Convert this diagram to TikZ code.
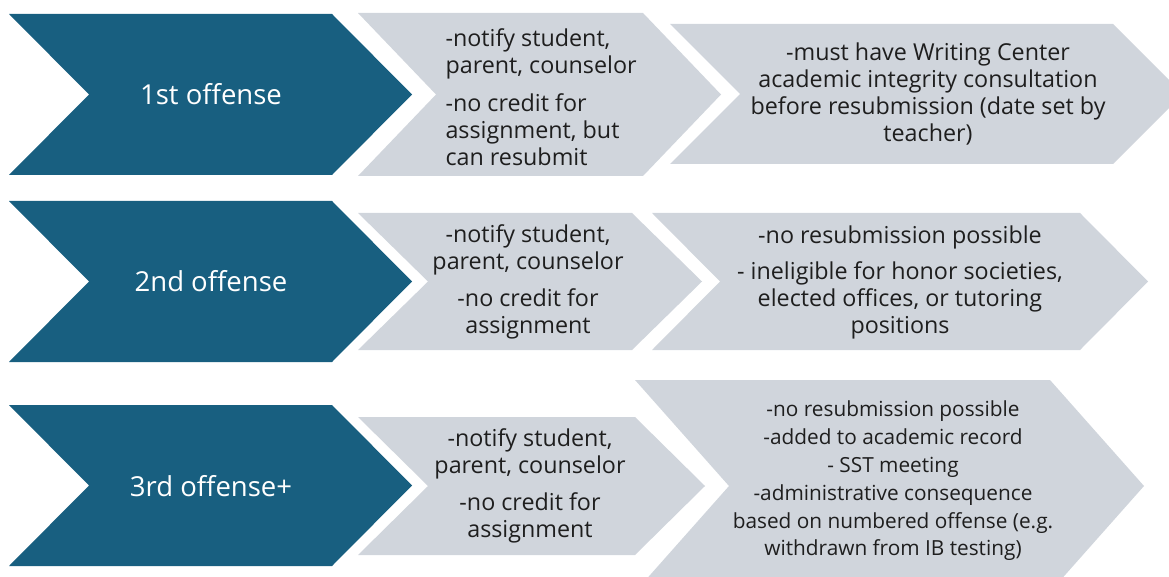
\documentclass[tikz,border=0pt]{standalone}
\usepackage{fontspec}
\setmainfont{Open Sans}
\usetikzlibrary{positioning}

\definecolor{offblue}{HTML}{185F80}
\definecolor{stepgrey}{HTML}{D0D5DC}
\definecolor{inktext}{HTML}{1E1E1E}

% chevron: left, top, bottom, depth, top-right corner, fill colour
\newcommand{\chevron}[6]{%
  \fill[#6] (#1,#2) -- (#5,#2) -- ({#5+#4},{(#2+#3)/2}) -- (#5,#3)
    -- (#1,#3) -- ({#1+#4},{(#2+#3)/2}) -- cycle;}

\begin{document}
\begin{tikzpicture}[x=1pt, y=-1pt,
  offense/.style={text=white, font=\fontsize{27.5}{30}\selectfont},
  rule/.style={text=inktext, font=\fontsize{23.3}{27}\selectfont, align=center},
  small rule/.style={rule, font=\fontsize{20.8}{27.8}\selectfont}]

\useasboundingbox (0,0) rectangle (1169,577);
\clip (0,0) rectangle (1169,577);

% first offense
\chevron{9}{14}{175}{80}{332}{offblue}
\chevron{358}{13}{176}{78}{643}{stepgrey}
\chevron{670}{24}{164}{70}{1113}{stepgrey}
\node [offense] (off1) at (211,94) {1st offense};
\node [rule, align=left, anchor=west] (note1a) at (442,97)
  {-notify student,\\ parent, counselor\\[11pt] -no credit for\\ assignment, but\\ can resubmit};
\node [rule] (note1b) at (928,94)
  {-must have Writing Center\\ academic integrity consultation\\ before resubmission (date set by\\ teacher)};

% second offense
\chevron{9}{201}{362}{80}{332}{offblue}
\chevron{358}{213}{350}{70}{632}{stepgrey}
\chevron{652}{213}{350}{68}{1080}{stepgrey}
\node [offense] (off2) at (211,281) {2nd offense};
\node [rule] (note2a) at (528,282)
  {-notify student,\\ parent, counselor\\[10pt] -no credit for\\ assignment};
\node [rule] (note2b) at (900,282)
  {-no resubmission possible\\[9pt] - ineligible for honor societies,\\ elected offices, or tutoring\\ positions};

% third offense and beyond
\chevron{9}{405}{566}{80}{332}{offblue}
\chevron{358}{417}{555}{70}{635}{stepgrey}
\chevron{635}{380}{592}{94}{1050}{stepgrey}
\node [offense] (off3) at (211,486) {3rd offense+};
\node [rule] (note3a) at (530,486)
  {-notify student,\\ parent, counselor\\[10pt] -no credit for\\ assignment};
\node [small rule] (note3b) at (893,481)
  {-no resubmission possible\\ -added to academic record\\ - SST meeting\\ -administrative consequence\\ based on numbered offense (e.g.\\ withdrawn from IB testing)};

\end{tikzpicture}
\end{document}
